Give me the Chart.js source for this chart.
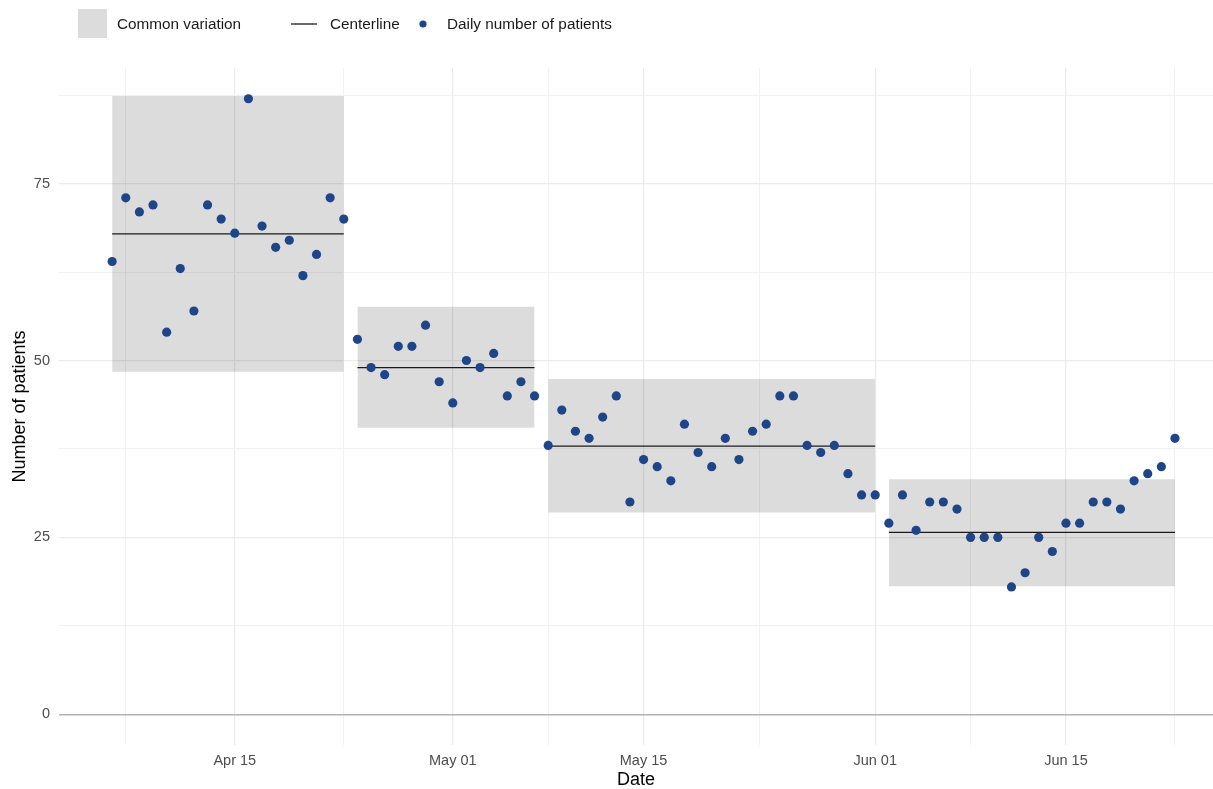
<!DOCTYPE html>
<html><head><meta charset="utf-8">
<script src="https://cdn.jsdelivr.net/npm/chart.js@4.4.1/dist/chart.umd.min.js"></script>
<style>html,body{margin:0;padding:0;background:#fff;overflow:hidden}#wrap{width:1213px;height:789px;position:relative}</style>
</head><body><div id="wrap"><canvas id="c" width="1213" height="789"></canvas></div>
<script>
// Day numbers are counted from Apr 01 (Apr 01 = 0). First observation: Apr 06.
const firstDay = 5;
const patients = [
  64,73,71,72,54,63,57,72,70,68,87,69,66,67,62,65,73,70,
  53,49,48,52,52,55,47,44,50,49,51,45,47,45,
  38,43,40,39,42,45,30,36,35,33,41,37,35,39,36,40,41,45,45,38,37,38,34,31,31,
  27,31,26,30,30,29,25,25,25,18,20,25,23,27,27,30,30,29,33,34,35,39
];
const segmentStart = [5, 23, 37, 62];
const segmentEnd   = [22, 36, 61, 83];
const centerline   = [67.9, 49.0, 37.9, 25.7];
const lowerLimit   = [48.4, 40.5, 28.5, 18.1];
const upperLimit   = [87.4, 57.6, 47.4, 33.2];
const xTickDays    = [14, 30, 44, 61, 75];
const xTickLabels  = ['Apr 15', 'May 01', 'May 15', 'Jun 01', 'Jun 15'];
const xMinorDays   = [6, 22, 37, 52.5, 68, 83];
const yTicks       = [0, 25, 50, 75];
const yMinorTicks  = [12.5, 37.5, 62.5, 87.5];

const FONT = '"Liberation Sans", Arial, sans-serif';
const POINT_COLOR = '#1f4589';
const BAND_FILL = 'rgba(0,0,0,0.137)';

const datasets = [];
datasets.push({
  label: 'Daily number of patients',
  data: patients.map((v, i) => ({x: firstDay + i, y: v})),
  showLine: false, pointRadius: 4.6, pointHoverRadius: 4.6,
  backgroundColor: POINT_COLOR, borderWidth: 0, order: 0
});
segmentStart.forEach((s, k) => {
  const e = segmentEnd[k];
  datasets.push({
    label: 'Centerline',
    data: [{x: s, y: centerline[k]}, {x: e, y: centerline[k]}],
    showLine: true, borderColor: '#1a1a1a', borderWidth: 1.3,
    pointRadius: 0, fill: false, order: 1
  });
  const lowIdx = datasets.length;
  datasets.push({
    label: 'lower',
    data: [{x: s, y: lowerLimit[k]}, {x: e, y: lowerLimit[k]}],
    showLine: true, borderColor: 'rgba(0,0,0,0)', borderWidth: 0,
    pointRadius: 0, fill: false, order: 3
  });
  datasets.push({
    label: 'Common variation',
    data: [{x: s, y: upperLimit[k]}, {x: e, y: upperLimit[k]}],
    showLine: true, borderColor: 'rgba(0,0,0,0)', borderWidth: 0,
    backgroundColor: BAND_FILL, pointRadius: 0, fill: lowIdx, order: 2
  });
});

const legendPlugin = {
  id: 'customLegend',
  afterDraw(chart) {
    const ctx = chart.ctx;
    ctx.save();
    const cy = 24;
    ctx.fillStyle = '#dcdcdc';
    ctx.fillRect(78, 9, 29, 29);
    ctx.strokeStyle = '#1a1a1a';
    ctx.lineWidth = 1.3;
    ctx.beginPath(); ctx.moveTo(291, cy); ctx.lineTo(317, cy); ctx.stroke();
    ctx.fillStyle = POINT_COLOR;
    ctx.beginPath(); ctx.arc(423, cy, 3.6, 0, Math.PI * 2); ctx.fill();
    ctx.fillStyle = '#1a1a1a';
    ctx.font = '15.3px ' + FONT;
    ctx.textBaseline = 'middle';
    ctx.textAlign = 'left';
    ctx.fillText('Common variation', 117, cy + 1);
    ctx.fillText('Centerline', 330, cy + 1);
    ctx.fillText('Daily number of patients', 447, cy + 1);
    ctx.restore();
  }
};

new Chart(document.getElementById('c'), {
  type: 'scatter',
  data: {datasets},
  plugins: [legendPlugin],
  options: {
    responsive: false, animation: false, devicePixelRatio: 1,
    layout: {autoPadding: false, padding: {top: 68, left: 0, right: 0, bottom: 0}},
    plugins: {legend: {display: false}, tooltip: {enabled: false}},
    scales: {
      x: {
        type: 'linear', min: 1.1, max: 85.79,
        afterBuildTicks: s => {
          s.ticks = [...xMinorDays, ...xTickDays].sort((a, b) => a - b).map(v => ({value: v}));
        },
        afterFit: s => { s.height = 44; },
        ticks: {
          autoSkip: false, maxRotation: 0, padding: 7, color: '#4d4d4d',
          font: {family: FONT, size: 14.5},
          callback: v => { const i = xTickDays.indexOf(v); return i >= 0 ? xTickLabels[i] : ''; }
        },
        grid: {
          drawTicks: false,
          color: c => (c.tick && xTickDays.includes(c.tick.value)) ? '#ebebeb' : '#f1f1f1',
          lineWidth: c => (c.tick && xTickDays.includes(c.tick.value)) ? 1.2 : 1
        },
        border: {display: false},
        title: {display: true, text: 'Date', color: '#000', font: {family: FONT, size: 18}, padding: {top: 0, bottom: -2}}
      },
      y: {
        type: 'linear', min: -4.35, max: 91.35,
        afterBuildTicks: s => {
          s.ticks = [...yTicks, ...yMinorTicks].sort((a, b) => a - b).map(v => ({value: v}));
        },
        afterFit: s => { s.width = 59; },
        ticks: {
          autoSkip: false, padding: 9, color: '#4d4d4d',
          font: {family: FONT, size: 14.5},
          callback: v => yTicks.includes(v) ? String(v) : ''
        },
        grid: {
          drawTicks: false,
          color: c => (c.tick && c.tick.value === 0) ? '#b3b3b3' : (c.tick && yTicks.includes(c.tick.value) ? '#ebebeb' : '#f1f1f1'),
          lineWidth: c => (c.tick && c.tick.value === 0) ? 1.4 : (c.tick && yTicks.includes(c.tick.value) ? 1.2 : 1)
        },
        border: {display: false},
        title: {display: true, text: 'Number of patients', color: '#000', font: {family: FONT, size: 18}, padding: {top: 9, bottom: 0}}
      }
    }
  }
});
</script>
</body></html>
